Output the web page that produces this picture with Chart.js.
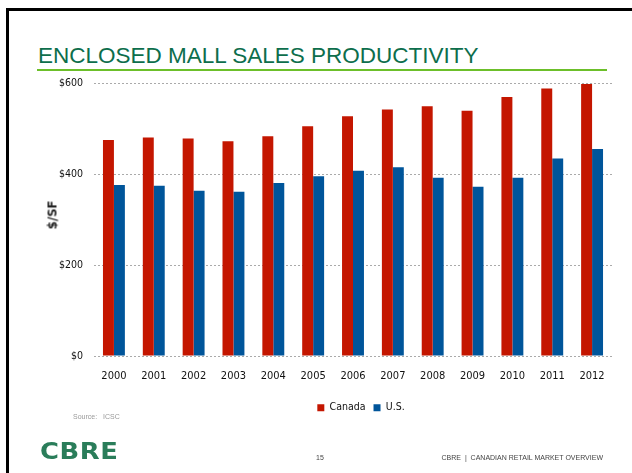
<!DOCTYPE html>
<html><head><meta charset="utf-8">
<script src="https://cdn.jsdelivr.net/npm/chart.js@4.4.1/dist/chart.umd.min.js"></script>
<style>
html,body{margin:0;padding:0;background:#fff;}
body{width:632px;height:473px;position:relative;overflow:hidden;font-family:'Liberation Sans',Arial,sans-serif;}
#wrap{position:absolute;left:0;top:0;width:632px;height:473px;}
.abs{position:absolute;white-space:nowrap;}
</style></head><body>
<div class="abs" style="left:6px;top:8px;width:626px;height:3px;background:#000"></div>
<div class="abs" style="left:6px;top:8px;width:3px;height:465px;background:#000"></div>
<div class="abs" style="left:38px;top:45px;font-size:22.5px;line-height:1;color:#0d6e4c;">ENCLOSED MALL SALES PRODUCTIVITY</div>
<div class="abs" style="left:37px;top:69px;width:570px;height:2px;background:#6cbf2a"></div>
<div id="wrap"><canvas id="c" width="632" height="473"></canvas></div>
<div class="abs" style="left:52px;top:215px;transform:translate(-50%,-50%) rotate(-90deg);font-family:'Liberation Sans Narrow','DejaVu Sans Condensed',sans-serif;font-weight:bold;font-size:13px;line-height:1;color:#222;">$/SF</div>
<div class="abs" style="left:73px;top:413px;font-size:7px;line-height:1;color:#999;">Source:&nbsp;&nbsp;&nbsp;ICSC</div>
<div class="abs" style="left:40px;top:440px;font-family:'DejaVu Sans',sans-serif;font-weight:bold;font-size:23.5px;line-height:1;color:#2a7d5a;letter-spacing:0.5px;transform:scaleX(1.1);transform-origin:left top;">CBRE</div>
<div class="abs" style="left:320px;top:454px;transform:translateX(-50%);font-size:7px;line-height:1;color:#444;">15</div>
<div class="abs" style="right:29px;top:454px;font-size:7px;line-height:1;color:#444;">CBRE&nbsp;&nbsp;|&nbsp;&nbsp;CANADIAN RETAIL MARKET OVERVIEW</div>
<script>
const years = ['2000','2001','2002','2003','2004','2005','2006','2007','2008','2009','2010','2011','2012'];
const canada = [475, 480, 478, 472, 483, 505, 527, 542, 549, 539, 569, 588, 598];
const us = [376, 374, 363, 361, 380, 395, 407, 415, 392, 372, 392, 434, 455];
const seriesNames = ['Canada', 'U.S.'];
const yTickValues = [0, 200, 400, 600];

const narrow = "'Liberation Sans Narrow','DejaVu Sans Condensed',sans-serif";

const legendShift = {
  id: 'legendShift',
  afterLayout(chart) {
    const l = chart.legend;
    if (l) { l.left += 8; l.right += 8; }
  }
};

new Chart(document.getElementById('c'), {
  type: 'bar',
  data: {
    labels: years,
    datasets: [
      { label: seriesNames[0], data: canada, backgroundColor: '#c41600', borderWidth: 0, categoryPercentage: 0.55, barPercentage: 1.0 },
      { label: seriesNames[1], data: us, backgroundColor: '#00559a', borderWidth: 0, categoryPercentage: 0.55, barPercentage: 1.0 }
    ]
  },
  options: {
    responsive: false,
    animation: false,
    layout: { padding: { left: 0, right: 20, top: 83, bottom: 50 } },
    plugins: {
      legend: {
        position: 'bottom',
        fullSize: false,
        labels: { boxWidth: 7, boxHeight: 7, padding: 8, color: '#111', font: { family: narrow, size: 10.5 } }
      },
      tooltip: { enabled: false }
    },
    scales: {
      x: {
        grid: { display: false, drawTicks: false },
        border: { display: false },
        ticks: { padding: 14, color: '#111', font: { family: narrow, size: 11 } },
        afterFit(s) { s.height = 38.5; }
      },
      y: {
        min: 0, max: 600,
        afterBuildTicks(s) { s.ticks = yTickValues.map(v => ({ value: v })); },
        grid: { color: '#aaaaaa', lineWidth: 1, drawTicks: false },
        border: { display: false, dash: [2, 2] },
        ticks: { padding: 11, color: '#111', font: { family: narrow, size: 10.5 }, callback: v => '$' + v },
        afterFit(s) { s.width = 94; }
      }
    }
  },
  plugins: [legendShift]
});
</script>
</body></html>
